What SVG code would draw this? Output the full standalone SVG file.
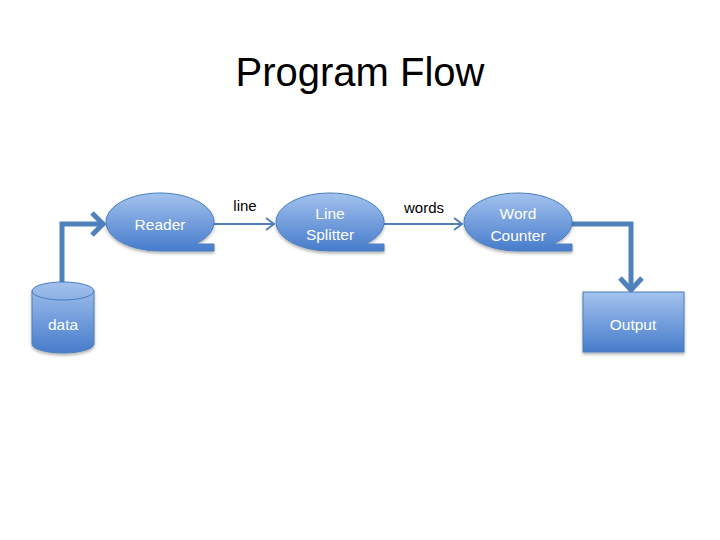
<svg xmlns="http://www.w3.org/2000/svg" width="720" height="540" viewBox="0 0 720 540">
<defs>
<linearGradient id="g" x1="0" y1="0" x2="0" y2="1">
<stop offset="0" stop-color="#a3c2ee"/>
<stop offset="1" stop-color="#477ccb"/>
</linearGradient>
<filter id="sh" x="-20%" y="-20%" width="140%" height="150%">
<feDropShadow dx="0" dy="2" stdDeviation="1.5" flood-color="#000" flood-opacity="0.3"/>
</filter>
</defs>
<style>
.shape{fill:url(#g);stroke:#4a7ebb;stroke-width:1;filter:url(#sh)}
.lbl{font-family:"Liberation Sans",Arial,sans-serif;font-size:15.5px;fill:#fff;text-anchor:middle}
.elbl{font-family:"Liberation Sans",Arial,sans-serif;font-size:15px;fill:#000;text-anchor:middle}
.thin{fill:none;stroke:#4f81bd;stroke-width:2}
.thick{fill:none;stroke:#4f81bd;stroke-width:5}
</style>
<rect width="720" height="540" fill="#fff"/>
<text x="360" y="86" font-family="Liberation Sans, Arial, sans-serif" font-size="40" text-anchor="middle" fill="#000">Program Flow</text>
<g id="connectors">
<path class="thick" d="M62 288 V224 H101"/>
<path class="thick" d="M92 213 L103 224 L92 235"/>
<path class="thin" d="M214 224 H274"/>
<path class="thin" d="M266 218 L274 224 L266 230"/>
<path class="thin" d="M384 224 H462"/>
<path class="thin" d="M454 218 L462 224 L454 230"/>
<path class="thick" d="M572 224 H631 V289"/>
<path class="thick" d="M620 278 L631 290 L642 278"/>
<text class="elbl" x="245" y="211">line</text>
<text class="elbl" x="424" y="213">words</text>
</g>
<g id="data">
<path class="shape" d="M32 291 A31 9 0 0 1 94 291 V344 A31 9 0 0 1 32 344 Z"/>
<path d="M32 291 A31 9 0 0 0 94 291" fill="none" stroke="#4a7ebb" stroke-width="1"/>
<text class="lbl" x="63" y="330">data</text>
</g>
<g id="reader">
<path class="shape" d="M160 251 A54 29 0 1 1 195.2 244 L214 244 L214 251 Z"/>
<text class="lbl" x="160" y="230">Reader</text>
</g>
<g id="splitter">
<path class="shape" d="M330 251 A54 29 0 1 1 365.2 244 L384 244 L384 251 Z"/>
<text class="lbl" x="330" y="219">Line</text>
<text class="lbl" x="330" y="240">Splitter</text>
</g>
<g id="counter">
<path class="shape" d="M518 251 A54 29 0 1 1 553.2 244 L572 244 L572 251 Z"/>
<text class="lbl" x="518" y="219">Word</text>
<text class="lbl" x="518" y="241">Counter</text>
</g>
<g id="output">
<rect class="shape" x="583" y="292" width="101" height="60"/>
<text class="lbl" x="633" y="330">Output</text>
</g>
</svg>
